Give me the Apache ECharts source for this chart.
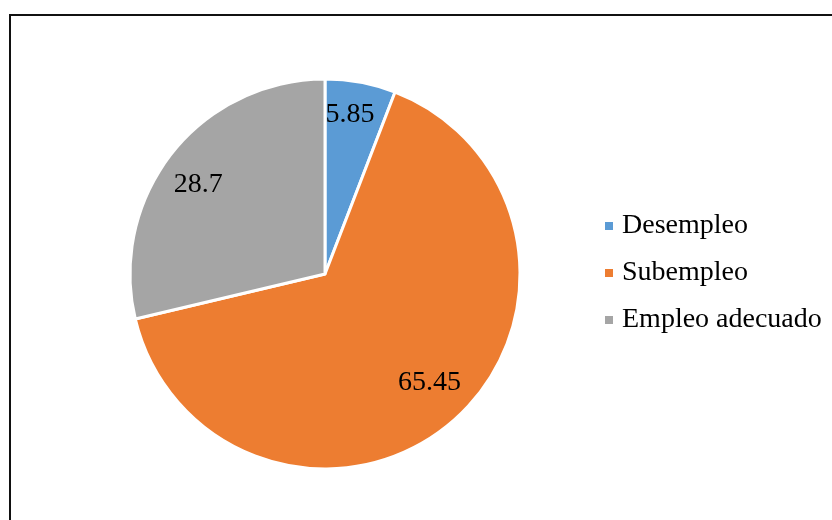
<!DOCTYPE html>
<html>
<head>
<meta charset="utf-8">
<style>
  html, body { margin: 0; padding: 0; background: #fff; }
  #chart { width: 832px; height: 520px; }
</style>
<script src="https://cdn.jsdelivr.net/npm/echarts@6/dist/echarts.min.js"></script>
</head>
<body>
<div id="chart"></div>
<script>
// Labour situation shares (%)
const categories = ['Desempleo', 'Subempleo', 'Empleo adecuado'];
const values = [5.85, 65.45, 28.7];
const colors = ['#5B9BD5', '#ED7D31', '#A5A5A5'];

const SERIF = '"Liberation Serif", "Times New Roman", serif';
const center = [325, 274];
const radius = 195;

// small nudges for the value labels so they sit clear of slice edges
const labelNudge = [[-4, -3], [0, -11], [-2, 9]];

const slices = categories.map((name, i) => ({ name, value: values[i] }));
const labelSlices = categories.map((name, i) => ({
  name,
  value: values[i],
  label: { offset: labelNudge[i] }
}));

const chart = echarts.init(document.getElementById('chart'), null, { renderer: 'canvas' });

chart.setOption({
  animation: false,
  backgroundColor: '#fff',
  graphic: [{
    type: 'rect',
    shape: { x: 10, y: 15, width: 900, height: 600 },
    style: { fill: 'none', stroke: '#111', lineWidth: 2 },
    z: 10,
    silent: true
  }],
  legend: {
    orient: 'vertical',
    left: 598,
    top: 207,
    data: categories,
    icon: 'rect',
    itemWidth: 10,
    itemHeight: 10,
    itemGap: 19,
    selectedMode: false,
    textStyle: {
      fontFamily: SERIF,
      fontSize: 28,
      lineHeight: 28,
      color: '#000',
      padding: [0, 0, 0, 3]
    }
  },
  series: [
    {
      type: 'pie',
      center: center,
      radius: [0, radius],
      startAngle: 90,
      clockwise: true,
      silent: true,
      data: slices,
      itemStyle: {
        color: (p) => colors[p.dataIndex],
        borderColor: '#fff',
        borderWidth: 3
      },
      label: { show: false },
      labelLine: { show: false }
    },
    {
      // transparent ring that carries the value labels further out
      type: 'pie',
      center: center,
      radius: [radius * 0.6, radius],
      startAngle: 90,
      clockwise: true,
      silent: true,
      data: labelSlices,
      itemStyle: { color: 'rgba(0,0,0,0)', borderWidth: 0 },
      label: {
        show: true,
        position: 'inside',
        formatter: (p) => String(p.value),
        fontFamily: SERIF,
        fontSize: 28,
        color: '#000'
      },
      labelLine: { show: false },
      emphasis: { disabled: true }
    }
  ]
});
</script>
</body>
</html>
